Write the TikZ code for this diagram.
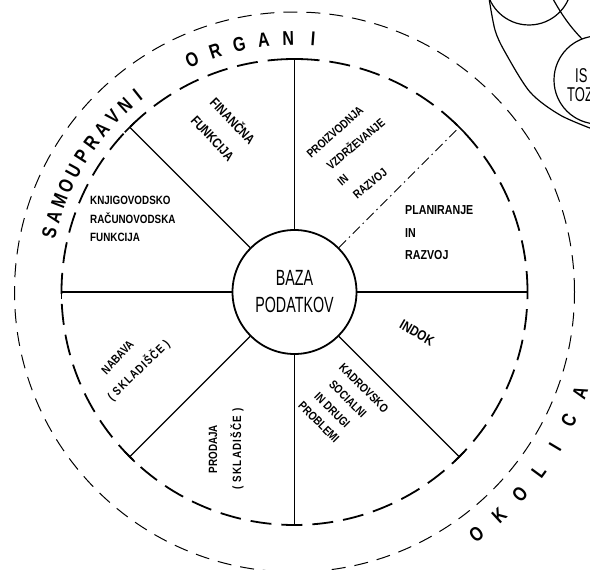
\documentclass[tikz,border=0pt]{standalone}
\usepackage{fontspec}
\setmainfont{Liberation Sans}
\newfontfamily\lblfont{Liberation Sans}[FakeStretch=0.82]
\newfontfamily\bazafont{Liberation Sans}[FakeStretch=0.65]
\newfontfamily\ringfont{Liberation Sans}[FakeStretch=0.8]
\usetikzlibrary{calc}
\tikzset{
  lbl/.style={font={\lblfont\bfseries\fontsize{#1}{#1}\selectfont}, inner sep=0pt},
  lbl/.default=12,
  ringl/.style={font={\ringfont\bfseries\fontsize{20}{20}\selectfont}, inner sep=0pt},
  bazanode/.style={circle, draw, line width=1.8pt, minimum size=124pt, inner sep=0pt,
    align=center, font={\bazafont\fontsize{22}{27}\selectfont}},
  spoke/.style={line width=1.2pt},
  dspoke/.style={line width=0.9pt, dash pattern=on 10pt off 4pt on 1.5pt off 4pt},
  tickmark/.style={line width=1.6pt},
  innerring/.style={line width=1.8pt, dash pattern=on 21pt off 10pt},
  outerring/.style={line width=1pt, dash pattern=on 14pt off 9pt},
  partshape/.style={line width=1.2pt},
}
\begin{document}
\begin{tikzpicture}[x=1pt,y=-1pt]
\fill[white] (0,0) rectangle (590,570);
\clip (0,0) rectangle (590,570);
\coordinate (c) at (294.5,292);

% rings
\draw[outerring] (c) circle[radius=280pt];
\draw[innerring] (c) circle[radius=233pt];

% centre
\node[bazanode] (baza) at (c) {BAZA\\PODATKOV};

% spokes
\foreach \a in {0,90,135,180,225,270,315}{
  \coordinate (e\a) at ($(c)+(\a:233pt)$);
  \draw[spoke] (baza) -- (e\a);
  \pgfmathsetmacro\pa{\a+90}
  \pgfmathsetmacro\pb{\a-90}
  \draw[tickmark] ($(e\a)+(\pa:7pt)$) -- ($(e\a)+(\pb:7pt)$);
}
\coordinate (e45) at ($(c)+(45:233pt)$);
\draw[dspoke] (baza) -- (e45);
\draw[tickmark] ($(e45)+(135:7pt)$) -- ($(e45)+(-45:7pt)$);

% SAMOUPRAVNI ORGANI
\foreach \ch [count=\i from 0] in {S,A,M,O,U,P,R,A,V,N,I}{
  \pgfmathsetmacro\ang{166.5-3.8*\i}
  \pgfmathsetmacro\rot{\ang-90}
  \node[ringl, rotate=\rot] (sa\i) at ($(c)+(\ang:252pt)$) {\ch};
}
\foreach \ch [count=\i from 0] in {O,R,G,A,N,I}{
  \pgfmathsetmacro\ang{113.8-5.6*\i}
  \pgfmathsetmacro\rot{\ang-90}
  \node[ringl, rotate=\rot] (or\i) at ($(c)+(\ang:254pt)$) {\ch};
}
% OKOLICA
\foreach \ch [count=\i from 0] in {O,K,O,L,I,C,A}{
  \pgfmathsetmacro\ang{-53.1+5.6*\i}
  \pgfmathsetmacro\rot{\ang+90}
  \node[ringl, rotate=\rot] (ok\i) at ($(c)+(\ang:303pt)$) {\ch};
}

% sector labels
\node[lbl, anchor=west] (kn1) at (90,200) {KNJIGOVODSKO};
\node[lbl, anchor=west] (kn2) at (90,218) {RAČUNOVODSKA};
\node[lbl, anchor=west] (kn3) at (90,237) {FUNKCIJA};

\node[lbl=13.5, rotate=-46] (fi1) at (233.5,120.5) {FINANČNA};
\node[lbl=13.5, rotate=-47] (fi2) at (212.5,138.5) {FUNKCIJA};

\node[lbl, rotate=42] (pr1) at (335,132) {PROIZVODNJA};
\node[lbl, rotate=40] (pr2) at (355,143.5) {VZDRŽEVANJE};
\node[lbl, rotate=40] (pr3) at (343,180) {IN};
\node[lbl, rotate=40] (pr4) at (370,183.5) {RAZVOJ};

\node[lbl=13, anchor=west] (pl1) at (405,210) {PLANIRANJE};
\node[lbl=13, anchor=west] (pl2) at (405,233) {IN};
\node[lbl=13, anchor=west] (pl3) at (405,255) {RAZVOJ};

\node[lbl=14, rotate=-30] (ind) at (417,333) {INDOK};

\node[lbl, rotate=-45] (ka1) at (363.9,387.9) {KADROVSKO};
\node[lbl, rotate=-45] (ka2) at (347.8,398.7) {SOCIALNI};
\node[lbl, rotate=-45] (ka3) at (332.3,410.1) {IN DRUGI};
\node[lbl, rotate=-45] (ka4) at (318.8,422.1) {PROBLEMI};

\node[lbl, rotate=90] (po1) at (213,449) {PRODAJA};
\node[lbl, rotate=90] (po2) at (237,449) {\addfontfeature{LetterSpace=10}( SKLADIŠČE )};

\node[lbl, rotate=47] (na1) at (117.5,357.5) {NABAVA};
\node[lbl, rotate=44] (na2) at (138.5,370) {\addfontfeature{LetterSpace=10}( SKLADIŠČE )};

% partial shapes of a neighbouring figure (top right)
\draw[partshape] (529,-18) circle[radius=43pt];
\draw[partshape] (553,-1) .. controls (562,15) and (570,27) .. (585,42);
\draw[partshape] plot[smooth] coordinates {(489,-2) (495,30) (505,52) (530,92) (560,115) (595,130)};
\draw[partshape, fill=white] (598,80) circle[radius=44pt];
\node[font={\bazafont\fontsize{20}{20}\selectfont}, inner sep=0pt, anchor=west] (is) at (575,76) {IS};
\node[font={\bazafont\fontsize{20}{20}\selectfont}, inner sep=0pt, anchor=west] (toz) at (567,95) {TOZ};
\end{tikzpicture}
\end{document}
